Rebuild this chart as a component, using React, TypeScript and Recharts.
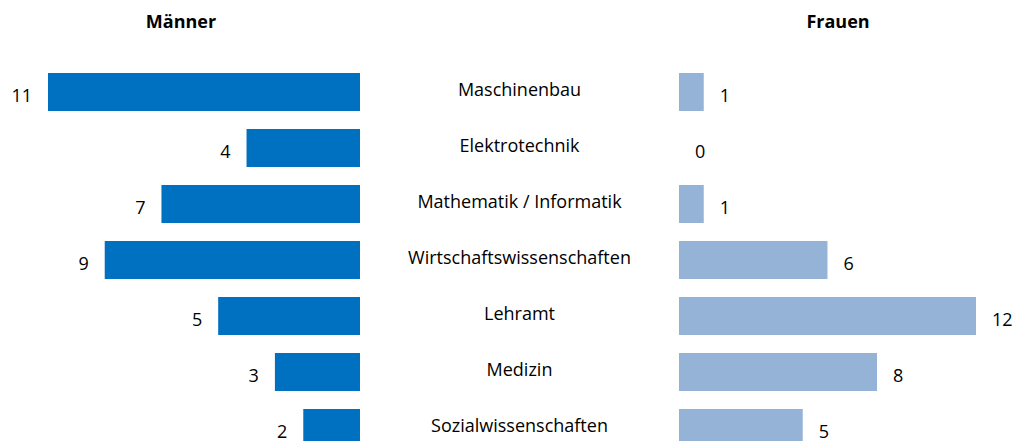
import { BarChart, Bar, XAxis, YAxis, LabelList } from "recharts";

const categories = [
  "Maschinenbau",
  "Elektrotechnik",
  "Mathematik / Informatik",
  "Wirtschaftswissenschaften",
  "Lehramt",
  "Medizin",
  "Sozialwissenschaften",
];
const maenner = [11, 4, 7, 9, 5, 3, 2];
const frauen = [1, 0, 1, 6, 12, 8, 5];

const data = categories.map((name, i) => ({ name, m: maenner[i], f: frauen[i] }));

const FONT = "'Open Sans', sans-serif";
const TEXT = "#000000";
const CENTER_W = 319;

// value label to the left of the (reversed) Männer bar
const LeftValue = (props: any) => {
  const { x, y, width, height, value } = props;
  const left = Math.min(x, x + width);
  return (
    <text x={left - 16} y={y + height / 2 + 10} textAnchor="end" fontSize={18} fill={TEXT} fontFamily={FONT}>
      {value}
    </text>
  );
};

const RightValue = (props: any) => {
  const { x, y, width, height, value } = props;
  const right = Math.max(x, x + width);
  return (
    <text x={right + 16} y={y + height / 2 + 10} textAnchor="start" fontSize={18} fill={TEXT} fontFamily={FONT}>
      {value}
    </text>
  );
};

const CategoryTick = (props: any) => {
  const { x, y, payload } = props;
  return (
    <text x={x + CENTER_W / 2} y={y + 4} textAnchor="middle" fontSize={18} fill={TEXT} fontFamily={FONT}>
      {payload.value}
    </text>
  );
};

export default function App() {
  return (
    <div style={{ position: "absolute", left: 0, top: 0, width: 1013, height: 441, overflow: "hidden", background: "#fff", fontFamily: FONT }}>
      <div style={{ position: "absolute", left: 0, top: 9, width: 362, textAlign: "center", fontWeight: 700, fontSize: 18 }}>
        Männer
      </div>
      <div style={{ position: "absolute", left: 679, top: 9, width: 318, textAlign: "center", fontWeight: 700, fontSize: 18 }}>
        Frauen
      </div>

      <div style={{ position: "absolute", left: 0, top: 0 }}>
        <BarChart width={679} height={456} data={data} layout="vertical" barSize={38}
          margin={{ top: 64, right: 0, bottom: 0, left: 48 }}>
          <XAxis type="number" domain={[0, 11]} reversed hide />
          <YAxis type="category" dataKey="name" orientation="right" width={CENTER_W}
            axisLine={false} tickLine={false} tickSize={0} tickMargin={0} tick={<CategoryTick />} interval={0} />
          <Bar dataKey="m" fill="#0070C0" isAnimationActive={false}>
            <LabelList dataKey="m" content={<LeftValue />} />
          </Bar>
        </BarChart>
      </div>

      <div style={{ position: "absolute", left: 679, top: 0 }}>
        <BarChart width={334} height={456} data={data} layout="vertical" barSize={38}
          margin={{ top: 64, right: 37, bottom: 0, left: 0 }}>
          <XAxis type="number" domain={[0, 12]} hide />
          <YAxis type="category" dataKey="name" hide />
          <Bar dataKey="f" fill="#95B3D7" isAnimationActive={false}
            minPointSize={(v: number) => (v === 0 ? 0.01 : 0)}>
            <LabelList dataKey="f" content={<RightValue />} />
          </Bar>
        </BarChart>
      </div>
    </div>
  );
}
